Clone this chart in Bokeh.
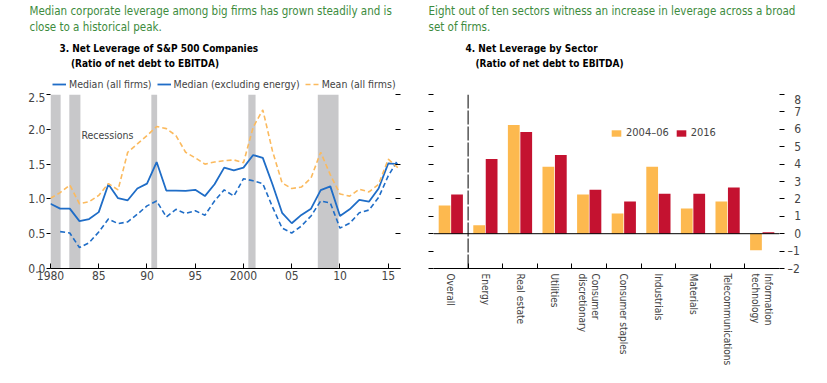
import math
import numpy as np
from bokeh.plotting import figure
from bokeh.models import (Range1d, FixedTicker, Label, Legend, LegendItem, Span,
                          LinearAxis, NumeralTickFormatter, CustomJSTickFormatter)
from bokeh.layouts import row, column
from bokeh.embed import file_html
from bokeh.resources import INLINE

FONT = "DejaVu Sans Condensed, Roboto"
GREEN = "#3D8B3D"
BLUE = "#1F6DC7"
ORANGE_L = "#FBBA5E"
ORANGE = "#FDB94F"
RED = "#C41230"
GRAY = "#C8C8CA"

# ---------------- Panel 3 data ----------------
years = list(range(1980, 2017))
median_all = [0.93, 0.86, 0.86, 0.68, 0.71, 0.81, 1.21, 1.01, 0.98, 1.15,
              1.22, 1.53, 1.12, 1.12, 1.115, 1.13, 1.04, 1.21, 1.45, 1.41,
              1.45, 1.63, 1.59, 1.21, 0.80, 0.65, 0.77, 0.86, 1.125, 1.18,
              0.755, 0.85, 0.985, 0.96, 1.15, 1.51, 1.50]
median_ex_energy = [np.nan, 0.53, 0.51, 0.30, 0.37, 0.525, 0.71, 0.645, 0.67, 0.78,
                    0.90, 0.97, 0.74, 0.85, 0.79, 0.83, 0.765, 0.97, 1.13, 1.04,
                    1.29, 1.26, 1.22, 0.885, 0.58, 0.51, 0.61, 0.755, 0.97, 0.94,
                    0.58, 0.65, 0.80, 0.84, 1.02, 1.33, 1.56]
mean_all = [1.01, 1.09, 1.20, 0.93, 0.96, 1.05, 1.22, 1.13, 1.67, 1.79,
            1.91, 2.04, 2.01, 1.91, 1.67, 1.59, 1.50, 1.53, 1.55, 1.56,
            1.52, 2.03, 2.28, 1.69, 1.23, 1.15, 1.17, 1.30, 1.67, 1.345,
            1.07, 1.04, 1.14, 1.10, 1.21, 1.57, 1.45]
series_names = ["Median (all firms)", "Median (excluding energy)", "Mean (all firms)"]
recession_start = [1980.0, 1981.95, 1990.45, 2000.5, 2007.7]
recession_end = [1981.05, 1983.1, 1991.05, 2001.25, 2009.85]
x_ticks = [1980, 1985, 1990, 1995, 2000, 2005, 2010, 2015]
x_tick_labels = ["1980", "85", "90", "95", "2000", "05", "10", "15"]
y_ticks_left = [0, 0.5, 1.0, 1.5, 2.0, 2.5]

# ---------------- Panel 4 data ----------------
sectors = ["Overall", "Energy", "Real estate", "Utilities", "Consumer\ndiscretionary",
           "Consumer staples", "Industrials", "Materials", "Telecommunications",
           "Information\ntechnology"]
lev_2004_06 = [1.62, 0.48, 6.25, 3.85, 2.25, 1.16, 3.85, 1.45, 1.85, -0.95]
lev_2016 = [2.25, 4.30, 5.85, 4.53, 2.53, 1.85, 2.30, 2.30, 2.65, 0.08]
y_ticks_right = list(range(-2, 9))

# ---------------- Header texts ----------------
header_left = ["Median corporate leverage among big firms has grown steadily and is",
               "close to a historical peak."]
header_right = ["Eight out of ten sectors witness an increase in leverage across a broad",
                "set of firms."]
title_left = ["3. Net Leverage of S&P 500 Companies", "(Ratio of net debt to EBITDA)"]
title_right = ["4. Net Leverage by Sector", "(Ratio of net debt to EBITDA)"]

# ================= Header (texts + legend of panel 3) =================
HW, HH = 820, 92
hdr = figure(width=HW, height=HH, x_range=Range1d(0, HW), y_range=Range1d(0, HH),
             x_axis_location=None, y_axis_location=None, min_border=0,
             output_backend="svg", toolbar_location=None)
hdr.outline_line_color = None
hdr.grid.visible = False


def htext(x, y, text, size, color="black", bold=False):
    hdr.add_layout(Label(x=x, y=HH - y, text=text, text_font=FONT, text_font_size=size,
                         text_color=color, text_font_style="bold" if bold else "normal",
                         text_baseline="middle", text_align="left"))


htext(29, 10, header_left[0], "11.5px", GREEN)
htext(29, 26, header_left[1], "11.5px", GREEN)
htext(59, 48, title_left[0], "10px", bold=True)
htext(70.5, 63, title_left[1], "10px", bold=True)
htext(428, 10, header_right[0], "11.5px", GREEN)
htext(428, 26, header_right[1], "11.5px", GREEN)
htext(465, 48, title_right[0], "10px", bold=True)
htext(475, 63, title_right[1], "10px", bold=True)

# legend swatches (styled like the panel-3 series)
k_med = hdr.line([np.nan], [np.nan], line_color=BLUE, line_width=1.8)
k_ex = hdr.line([np.nan], [np.nan], line_color=BLUE, line_width=1.8)
k_mean = hdr.line([np.nan], [np.nan], line_color=ORANGE_L, line_width=1.6, line_dash="5 3")
leg1 = Legend(items=[LegendItem(label=series_names[0], renderers=[k_med]),
                     LegendItem(label=series_names[1], renderers=[k_ex]),
                     LegendItem(label=series_names[2], renderers=[k_mean])],
              orientation="horizontal", location=(52, 2), padding=0, margin=0,
              spacing=5, label_standoff=3, glyph_width=14, glyph_height=12,
              label_height=12, label_text_font=FONT, label_text_font_size="10.5px",
              border_line_color=None, background_fill_alpha=0)
hdr.add_layout(leg1, "center")

# ================= Panel 3 =================
p1 = figure(width=420, height=285,
            min_border_left=50, min_border_right=20, min_border_top=2, min_border_bottom=109,
            x_range=Range1d(1980, 2016.27), y_range=Range1d(0, 2.5),
            output_backend="svg", toolbar_location=None)
p1.outline_line_color = None
p1.grid.visible = False

p1.quad(left=recession_start, right=recession_end, bottom=0, top=2.5,
        fill_color=GRAY, line_color=None)
p1.line(years, median_all, line_color=BLUE, line_width=1.8)
p1.line(years, median_ex_energy, line_color=BLUE, line_width=1.6, line_dash="5 3")
p1.line(years, mean_all, line_color=ORANGE_L, line_width=1.6, line_dash="5 3")

xa = p1.xaxis[0]
xa.ticker = FixedTicker(ticks=x_ticks)
xa.major_label_overrides = {t: l for t, l in zip(x_ticks, x_tick_labels)}
xa.major_tick_in = 5
xa.major_tick_out = 0
xa.minor_tick_line_color = None
xa.axis_line_color = "black"
xa.major_tick_line_color = "black"
xa.major_label_text_font = FONT
xa.major_label_text_font_size = "12px"
xa.major_label_standoff = 2

ya = p1.yaxis[0]
ya.ticker = FixedTicker(ticks=y_ticks_left)
ya.formatter = NumeralTickFormatter(format="0.0")
ya.major_tick_in = 0
ya.major_tick_out = 4
ya.minor_tick_line_color = None
ya.axis_line_color = None
ya.major_tick_line_color = "black"
ya.major_label_text_font = FONT
ya.major_label_text_font_size = "12px"
ya.major_label_standoff = 1

p1.add_layout(LinearAxis(ticker=FixedTicker(ticks=y_ticks_left),
                         formatter=CustomJSTickFormatter(code="return ' '"),
                         major_tick_in=5, major_tick_out=0, minor_tick_line_color=None,
                         axis_line_color=None, major_label_standoff=0,
                         major_label_text_color=None, major_label_text_font_size="8px"), "right")

p1.add_layout(Label(x=1983.2, y=1.92, text="Recessions", text_font=FONT,
                    text_font_size="10.5px", text_baseline="middle"))

# ================= Panel 4 =================
p2 = figure(width=394, height=285,
            min_border_left=13, min_border_right=35, min_border_top=1, min_border_bottom=109,
            x_range=Range1d(0, 10), y_range=Range1d(-2, 8),
            output_backend="svg", toolbar_location=None)
p2.outline_line_color = None
p2.grid.visible = False

centers = np.arange(len(sectors)) + 0.5
r_a = p2.vbar(x=centers - 0.18, top=lev_2004_06, bottom=0, width=0.34,
              fill_color=ORANGE, line_color=None)
r_b = p2.vbar(x=centers + 0.18, top=lev_2016, bottom=0, width=0.34,
              fill_color=RED, line_color=None)

p2.add_layout(Span(location=0, dimension="width", line_color="black", line_width=1))
p2.add_layout(Span(location=1, dimension="height", line_color="black", line_width=1,
                   line_dash="14 2"))

xb = p2.xaxis[0]
xb.ticker = FixedTicker(ticks=list(centers), minor_ticks=list(range(1, len(sectors))))
xb.major_label_overrides = {float(c): s for c, s in zip(centers, sectors)}
xb.major_tick_in = 0
xb.major_tick_out = 0
xb.minor_tick_in = 5
xb.minor_tick_out = 0
xb.minor_tick_line_color = "black"
xb.axis_line_color = "black"
xb.major_label_orientation = -math.pi / 2
xb.major_label_text_font = FONT
xb.major_label_text_font_size = "10px"
xb.major_label_standoff = 5

yb = p2.yaxis[0]
yb.ticker = FixedTicker(ticks=y_ticks_right)
yb.formatter = CustomJSTickFormatter(code="return ' '")
yb.major_tick_in = 0
yb.major_tick_out = 5
yb.minor_tick_line_color = None
yb.axis_line_color = None
yb.major_label_standoff = 0
yb.major_label_text_color = None
yb.major_label_text_font_size = "8px"

right_labels = {t: (("\u2013" + str(-t)) if t < 0 else ("\u2007" + str(t))) for t in y_ticks_right}
p2.add_layout(LinearAxis(ticker=FixedTicker(ticks=y_ticks_right), major_tick_in=0,
                         major_tick_out=5, minor_tick_line_color=None, axis_line_color=None,
                         major_label_overrides=right_labels, major_label_text_font=FONT,
                         major_label_text_font_size="12px", major_label_standoff=3), "right")

leg2 = Legend(items=[LegendItem(label="2004\u201306", renderers=[r_a]),
                     LegendItem(label="2016", renderers=[r_b])],
              orientation="horizontal", location=(177, 129), padding=0, margin=0,
              spacing=6, label_standoff=4, glyph_width=12, glyph_height=8,
              label_height=12, label_text_font=FONT, label_text_font_size="11px",
              border_line_color=None, background_fill_alpha=0)
p2.add_layout(leg2, "center")

layout = column(hdr, row(p1, p2))
open("out.html", "w").write(file_html(layout, INLINE))
